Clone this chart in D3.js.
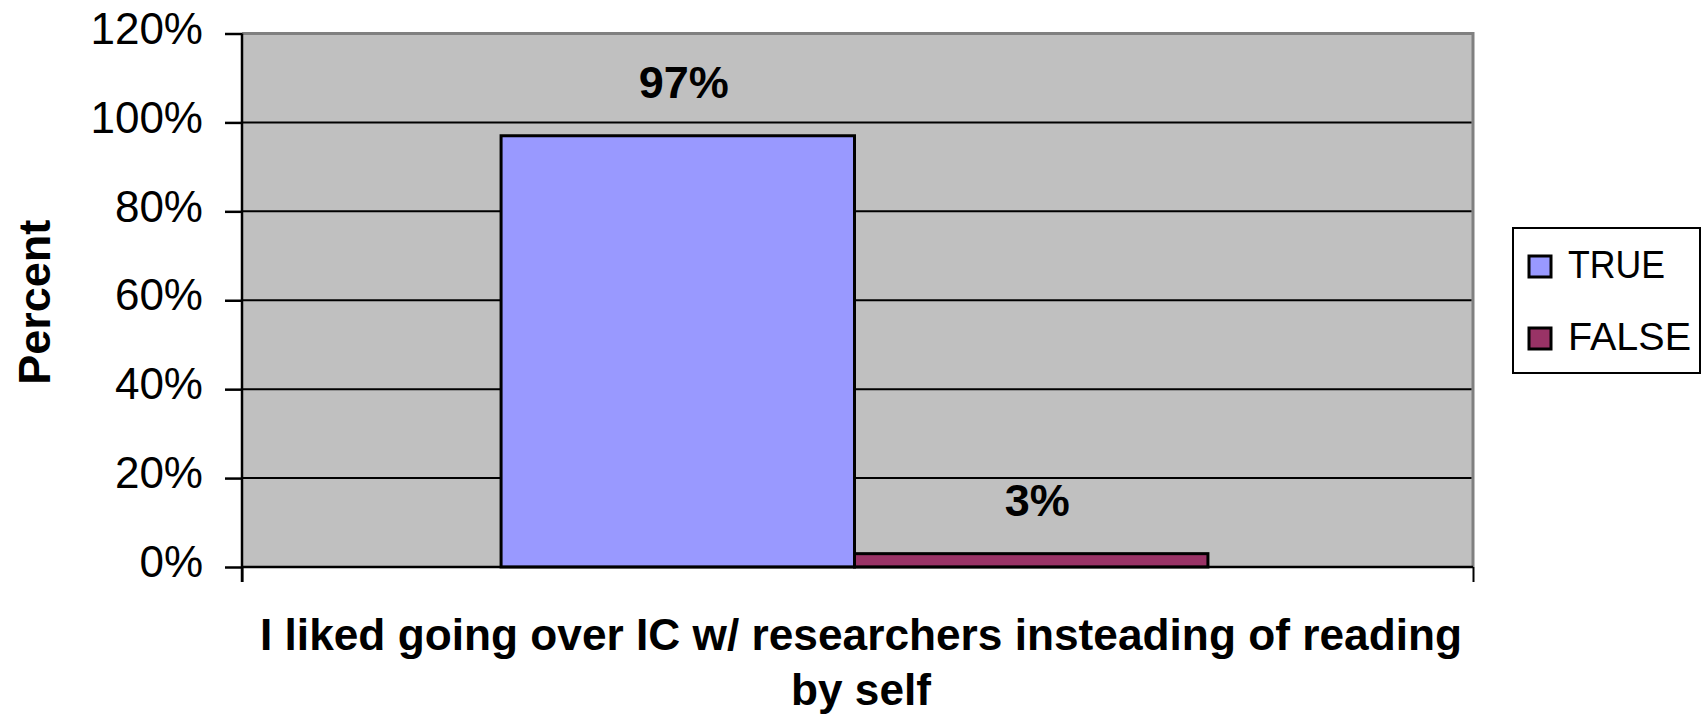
<!DOCTYPE html>
<html>
<head>
<meta charset="utf-8">
<script src="https://cdn.jsdelivr.net/npm/d3@7"></script>
<style>
  html, body { margin: 0; padding: 0; background: #fff; }
  svg { display: block; font-family: Arial, "Liberation Sans", sans-serif; }
</style>
</head>
<body>
<svg id="chart" width="1701" height="718"></svg>
<script>
// Survey response data
const categories = ["I liked going over IC w/ researchers insteading of reading by self"];
const seriesNames = ["TRUE", "FALSE"];
const seriesValues = [0.97, 0.03];
const seriesColors = ["#9999FF", "#993366"];
const yTicks = [0, 0.2, 0.4, 0.6, 0.8, 1.0, 1.2];
const titleLines = ["I liked going over IC w/ researchers insteading of reading", "by self"];
const yTitle = "Percent";

const svg = d3.select("#chart");
const plot = { left: 242, right: 1473, top: 33.5, bottom: 567 };

const y = d3.scaleLinear().domain([0, 1.2]).range([plot.bottom, plot.top]);
const x0 = d3.scaleBand().domain(categories).range([plot.left - 6, plot.right])
  .paddingInner(0).paddingOuter(0.375);
const x1 = d3.scaleBand().domain(seriesNames).range([0, x0.bandwidth()]).padding(0);

// Plot background
svg.append("rect")
  .attr("x", plot.left).attr("y", plot.top)
  .attr("width", plot.right - plot.left).attr("height", plot.bottom - plot.top)
  .attr("fill", "#C0C0C0");

// Grey frame on top and right
svg.append("path")
  .attr("d", `M${plot.left},${plot.top}H${plot.right}V${plot.bottom}`)
  .attr("fill", "none").attr("stroke", "#808080").attr("stroke-width", 3);

// Horizontal gridlines
svg.append("g").selectAll("line")
  .data(yTicks.filter(t => t > 0 && t < 1.2))
  .join("line")
  .attr("x1", plot.left).attr("x2", plot.right - 1.5)
  .attr("y1", d => y(d)).attr("y2", d => y(d))
  .attr("stroke", "#000").attr("stroke-width", 2);

// Bars
const group = svg.append("g").attr("transform", `translate(${x0(categories[0])},0)`);
group.selectAll("rect")
  .data(seriesNames.map((n, i) => ({ name: n, value: seriesValues[i], color: seriesColors[i] })))
  .join("rect")
  .attr("x", d => x1(d.name))
  .attr("width", x1.bandwidth())
  .attr("y", d => y(d.value))
  .attr("height", d => y(0) - y(d.value))
  .attr("fill", d => d.color)
  .attr("stroke", "#000").attr("stroke-width", 3);

// Value labels
group.selectAll("text.val")
  .data(seriesNames.map((n, i) => ({ name: n, value: seriesValues[i] })))
  .join("text")
  .attr("class", "val")
  .attr("x", d => x1(d.name) + x1.bandwidth() / 2 + 6)
  .attr("y", d => y(d.value) - 38)
  .attr("text-anchor", "middle")
  .attr("font-size", 45).attr("font-weight", "bold")
  .text(d => Math.round(d.value * 100) + "%");

// Y axis
const yAxis = d3.axisLeft(y).tickValues(yTicks).tickSize(17).tickPadding(22)
  .tickFormat(d => Math.round(d * 100) + "%");
const gy = svg.append("g").attr("transform", `translate(${plot.left},0)`).call(yAxis);
gy.select(".domain").attr("stroke", "#000").attr("stroke-width", 2.5)
  .attr("d", `M0,${plot.top}V${plot.bottom + 15}`);
gy.selectAll(".tick line").attr("stroke", "#000").attr("stroke-width", 2.5);
gy.selectAll(".tick text")
  .attr("font-size", 44).attr("fill", "#000")
  .attr("font-family", "Arial, 'Liberation Sans', sans-serif")
  .attr("dy", "0.22em");

// X axis
const xAxis = d3.axisBottom(d3.scaleLinear().domain([0, 1]).range([plot.left, plot.right]))
  .tickValues([0, 1]).tickSize(15).tickFormat("");
const gx = svg.append("g").attr("transform", `translate(0,${plot.bottom})`).call(xAxis);
gx.select(".domain").attr("stroke", "#000").attr("stroke-width", 2.5)
  .attr("d", `M${plot.left},0H${plot.right}`);
gx.selectAll(".tick line").attr("stroke", "#000").attr("stroke-width", 2);

// Y axis title
svg.append("text")
  .attr("transform", `translate(50,${(plot.top + plot.bottom) / 2 + 2}) rotate(-90)`)
  .attr("text-anchor", "middle")
  .attr("font-size", 45).attr("font-weight", "bold")
  .text(yTitle);

// X axis title (two lines)
const xt = svg.append("text")
  .attr("text-anchor", "middle")
  .attr("font-size", 44).attr("font-weight", "bold");
xt.append("tspan").attr("x", 861).attr("y", 650)
  .attr("textLength", 1202).attr("lengthAdjust", "spacingAndGlyphs")
  .text(titleLines[0]);
xt.append("tspan").attr("x", 861).attr("y", 705)
  .attr("textLength", 140).attr("lengthAdjust", "spacingAndGlyphs")
  .text(titleLines[1]);

// Legend
const legend = svg.append("g");
legend.append("rect")
  .attr("x", 1513).attr("y", 228).attr("width", 187).attr("height", 145)
  .attr("fill", "#fff").attr("stroke", "#000").attr("stroke-width", 2);
const items = legend.selectAll("g.item")
  .data(seriesNames.map((n, i) => ({ name: n, color: seriesColors[i] })))
  .join("g").attr("class", "item")
  .attr("transform", (d, i) => `translate(0,${i * 72})`);
items.append("rect")
  .attr("x", 1529).attr("y", 256).attr("width", 22).attr("height", 21)
  .attr("fill", d => d.color).attr("stroke", "#000").attr("stroke-width", 3);
items.append("text")
  .attr("x", 1568).attr("y", 278)
  .attr("font-size", 39)
  .attr("textLength", (d, i) => i === 0 ? 97 : 123).attr("lengthAdjust", "spacingAndGlyphs")
  .text(d => d.name);
</script>
</body>
</html>
